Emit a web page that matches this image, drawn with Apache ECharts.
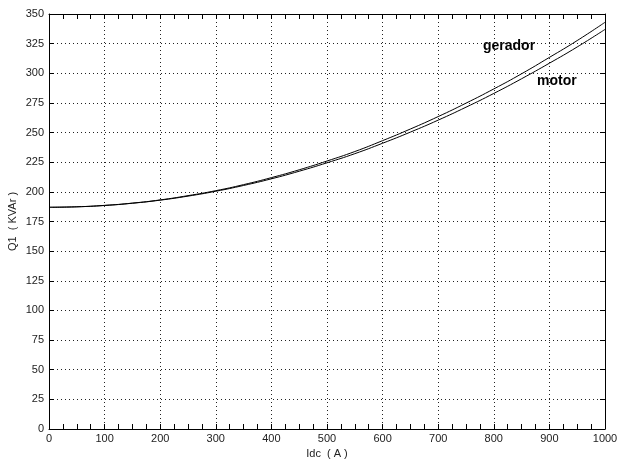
<!DOCTYPE html>
<html>
<head>
<meta charset="utf-8">
<script src="https://cdn.jsdelivr.net/npm/echarts@6/dist/echarts.min.js"></script>
<style>html,body{margin:0;padding:0;background:#fff;}#c{width:617px;height:462px;}</style>
</head>
<body>
<div id="c"></div>
<script>
var idc = [0,50,100,150,200,250,300,350,400,450,500,550,600,650,700,750,800,850,900,950,1000];
var gerador = [187,187.4,188.6,190.5,193.2,196.8,201,206.1,212,218.6,226,234,243.2,253,263.5,274.8,286.8,299.6,313.4,327.6,343];
var motor = [187,187.4,188.5,190.4,193,196.4,200.5,205.4,211,217.4,224.5,232.2,241,250.4,260.5,271.4,283,295.4,308.5,322.2,337];
var xTicks = [0,100,200,300,400,500,600,700,800,900,1000];
var yTicks = [0,25,50,75,100,125,150,175,200,225,250,275,300,325,350];

var chart = echarts.init(document.getElementById('c'), null, {renderer:'canvas'});
var font = 'Liberation Sans, Arial, sans-serif';
var gridLine = {show:true, lineStyle:{color:'#222', type:[1,3], width:1}};
function pair(xs, ys){ return xs.map(function(x,i){return [x, ys[i]];}); }
chart.setOption({
  animation:false,
  backgroundColor:'#fff',
  grid:{left:49, right:12, top:14, bottom:33, containLabel:false, outerBoundsMode:'none'},
  xAxis:[{
    type:'value', min:xTicks[0], max:xTicks[xTicks.length-1], interval:100, position:'bottom',
    name:'Idc  ( A )', nameLocation:'middle', nameGap:17,
    nameTextStyle:{color:'#222', fontSize:11, fontFamily:font},
    axisLine:{show:true, onZero:false, lineStyle:{color:'#000', width:1}},
    axisTick:{show:true, inside:true, length:5, lineStyle:{color:'#000'}},
    minorTick:{show:true, splitNumber:4, length:5, lineStyle:{color:'#000'}},
    axisLabel:{color:'#222', fontSize:11, fontFamily:font, margin:4, formatter:function(v){return String(v);}},
    splitLine:gridLine
  },{
    type:'value', min:xTicks[0], max:xTicks[xTicks.length-1], interval:100, position:'top',
    axisLine:{show:true, onZero:false, lineStyle:{color:'#000', width:1}},
    axisTick:{show:true, inside:true, length:5, lineStyle:{color:'#000'}},
    minorTick:{show:true, splitNumber:4, length:5, lineStyle:{color:'#000'}},
    axisLabel:{show:false}, splitLine:{show:false}
  }],
  yAxis:[{
    type:'value', min:yTicks[0], max:yTicks[yTicks.length-1], interval:25, position:'left',
    name:'Q1  ( KVAr )', nameLocation:'middle', nameGap:31, nameRotate:90, nameMoveOverlap:false,
    nameTextStyle:{color:'#222', fontSize:11, fontFamily:font},
    axisLine:{show:true, onZero:false, lineStyle:{color:'#000', width:1}},
    axisTick:{show:true, inside:true, length:5, lineStyle:{color:'#000'}},
    axisLabel:{color:'#222', fontSize:11, fontFamily:font, margin:5, formatter:function(v){return String(v);}},
    splitLine:gridLine
  },{
    type:'value', min:yTicks[0], max:yTicks[yTicks.length-1], interval:25, position:'right',
    axisLine:{show:true, onZero:false, lineStyle:{color:'#000', width:1}},
    axisTick:{show:true, inside:true, length:5, lineStyle:{color:'#000'}},
    axisLabel:{show:false}, splitLine:{show:false}
  }],
  series:[
    {name:'gerador', type:'line', data:pair(idc, gerador), smooth:true, symbol:'none',
     lineStyle:{color:'#000', width:1}},
    {name:'motor', type:'line', data:pair(idc, motor), smooth:true, symbol:'none',
     lineStyle:{color:'#000', width:1}}
  ],
  graphic:[
    {type:'text', left:483, top:39, style:{text:'gerador', fill:'#000', font:'bold 14px '+font}},
    {type:'text', left:537, top:74, style:{text:'motor', fill:'#000', font:'bold 14px '+font}}
  ]
});
</script>
</body>
</html>
